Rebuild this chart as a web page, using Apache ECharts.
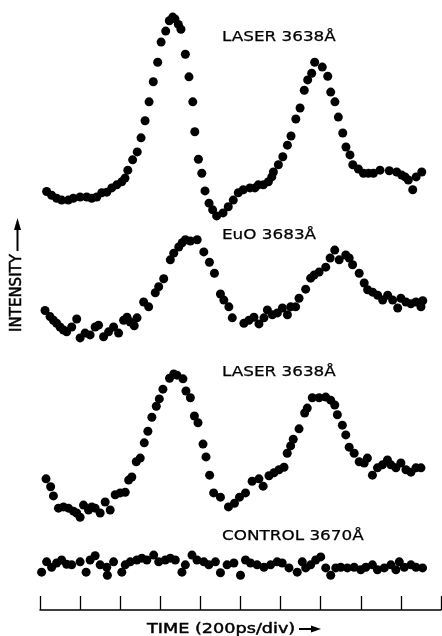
<!DOCTYPE html>
<html>
<head>
<meta charset="utf-8">
<script src="https://cdn.jsdelivr.net/npm/echarts@6/dist/echarts.min.js"></script>
<style>
  html, body { margin: 0; padding: 0; background: #fff; }
  #chart { width: 442px; height: 636px; }
</style>
</head>
<body>
<div id="chart"></div>
<script>
// time in ps (200 ps per division), intensity in arbitrary units above each trace's baseline
var laser1Time = [33, 58, 83, 108, 141, 166, 200, 233, 258, 283, 308, 333, 358, 383, 408, 424, 438, 462, 485, 504, 524, 544, 565, 587, 604, 627, 645, 662, 673, 690, 703, 725, 743, 762, 772, 790, 807, 823, 843, 861, 881, 913, 939, 964, 989, 1014, 1047, 1072, 1089, 1114, 1139, 1156, 1164, 1189, 1211, 1234, 1252, 1276, 1297, 1318, 1335, 1355, 1370, 1408, 1435, 1450, 1471, 1488, 1510, 1526, 1546, 1560, 1588, 1613, 1638, 1663, 1696, 1742, 1779, 1804, 1821, 1837, 1859, 1876, 1904];
var laser1Int = [2.6, 2.0, 1.5, 1.2, 1.2, 1.5, 1.7, 1.7, 1.5, 1.7, 2.4, 2.5, 3.2, 3.7, 4.2, 4.8, 6.1, 7.8, 9.1, 11.4, 14.2, 17.3, 20.6, 23.8, 27.1, 28.9, 30.6, 31.2, 30.9, 30.0, 29.2, 25.1, 21.4, 17.3, 12.4, 7.9, 5.6, 2.7, 0.7, -0.4, -1.4, -0.9, 0.1, 1.2, 2.4, 2.9, 3.2, 3.2, 3.7, 3.7, 4.2, 5.0, 5.8, 7.0, 8.3, 10.2, 11.7, 14.5, 16.3, 19.2, 20.9, 22.0, 23.8, 23.0, 21.5, 18.9, 17.3, 14.8, 12.2, 9.9, 8.6, 7.0, 6.3, 5.6, 5.6, 5.6, 6.1, 6.0, 5.8, 5.3, 5.0, 4.5, 2.9, 5.0, 5.8];

var euoTime = [25, 50, 67, 83, 100, 117, 133, 158, 183, 200, 225, 250, 275, 292, 317, 342, 367, 392, 417, 434, 450, 470, 484, 517, 542, 575, 592, 617, 650, 667, 692, 709, 725, 750, 784, 817, 845, 870, 900, 917, 942, 959, 1017, 1042, 1067, 1092, 1117, 1134, 1159, 1184, 1209, 1234, 1250, 1275, 1292, 1325, 1350, 1367, 1392, 1425, 1447, 1470, 1492, 1525, 1542, 1559, 1592, 1617, 1634, 1659, 1684, 1709, 1734, 1759, 1784, 1800, 1825, 1850, 1875, 1900, 1909];
var euoInt = [5.1, 4.1, 3.5, 3.0, 2.4, 1.9, 1.6, 2.4, 3.7, 0.6, 1.4, 1.1, 2.4, 2.7, 0.8, 1.6, 2.4, 1.4, 3.5, 4.0, 3.2, 2.6, 3.9, 6.5, 5.7, 8.0, 9.0, 10.3, 13.4, 14.5, 15.5, 16.2, 16.7, 16.5, 16.7, 14.7, 13.0, 11.2, 7.8, 6.8, 5.7, 3.9, 3.0, 3.5, 4.0, 2.9, 3.9, 5.2, 4.4, 4.7, 5.5, 4.4, 5.7, 5.7, 7.1, 8.6, 10.4, 10.9, 11.4, 12.2, 13.7, 15.0, 13.4, 14.2, 13.7, 12.6, 11.2, 9.6, 8.5, 8.1, 7.6, 6.8, 7.6, 6.8, 5.5, 7.1, 6.5, 6.2, 6.5, 5.7, 6.7];

var laser2Time = [30, 53, 67, 92, 117, 142, 167, 183, 200, 217, 242, 258, 275, 300, 325, 350, 375, 400, 425, 442, 458, 480, 500, 520, 538, 558, 580, 595, 613, 646, 667, 683, 713, 728, 750, 770, 788, 813, 828, 846, 866, 900, 940, 970, 995, 1025, 1058, 1092, 1113, 1142, 1167, 1192, 1217, 1233, 1250, 1263, 1292, 1320, 1333, 1358, 1392, 1425, 1450, 1470, 1483, 1508, 1525, 1542, 1567, 1592, 1617, 1633, 1658, 1683, 1708, 1733, 1750, 1775, 1800, 1825, 1850, 1875, 1900];
var laser2Int = [6.5, 5.2, 3.7, 1.7, 1.9, 1.7, 1.2, 0.9, 0.2, 2.2, 1.4, 1.9, 1.7, 0.9, 2.7, 1.4, 3.9, 4.2, 4.3, 6.3, 6.8, 9.3, 9.9, 12.4, 14.3, 16.6, 18.4, 19.6, 21.2, 23.0, 23.7, 23.5, 22.9, 20.9, 19.8, 16.8, 15.7, 12.2, 10.1, 7.1, 4.2, 3.5, 1.9, 2.5, 3.5, 4.2, 6.1, 6.5, 5.3, 7.0, 7.5, 8.0, 8.4, 10.7, 11.9, 13.0, 14.7, 17.3, 18.1, 19.8, 19.8, 19.9, 19.4, 18.6, 17.0, 15.3, 13.7, 11.7, 10.7, 9.3, 9.1, 9.9, 7.1, 8.3, 8.8, 9.6, 8.8, 8.3, 9.1, 8.0, 7.6, 8.3, 8.3];

var controlTime = [8, 33, 58, 83, 108, 133, 158, 200, 230, 250, 275, 300, 333, 336, 367, 408, 425, 450, 483, 508, 533, 567, 592, 625, 650, 675, 708, 725, 758, 783, 817, 842, 875, 900, 933, 967, 1000, 1025, 1050, 1083, 1117, 1150, 1183, 1208, 1242, 1283, 1308, 1325, 1350, 1375, 1400, 1425, 1450, 1475, 1500, 1533, 1567, 1600, 1625, 1658, 1683, 1717, 1750, 1775, 1792, 1817, 1850, 1875, 1908];
var controlInt = [1.2, 2.9, 2.0, 2.7, 3.2, 2.5, 2.4, 2.9, 1.2, 3.2, 3.9, 2.4, 2.0, 0.7, 2.9, 1.2, 2.4, 2.9, 3.2, 3.5, 3.2, 4.0, 2.9, 3.2, 3.5, 3.2, 1.2, 2.4, 4.0, 3.2, 2.9, 2.4, 2.9, 1.1, 2.4, 2.7, 0.7, 3.2, 2.7, 2.4, 2.0, 2.4, 2.9, 2.7, 1.9, 1.2, 2.9, 1.9, 2.4, 3.2, 3.7, 1.9, 0.7, 1.9, 2.0, 1.9, 2.0, 1.6, 2.0, 2.4, 1.6, 1.9, 2.4, 1.6, 2.9, 2.0, 2.4, 2.0, 1.9];

// vertical offsets of the stacked traces (same arbitrary units)
var traceNames = ['LASER 3638Å', 'EuO 3683Å', 'LASER 3638Å', 'CONTROL 3670Å'];
var traceOffsets = [66, 44, 15, 5];
var timeTicks = [0, 200, 400, 600, 800, 1000, 1200, 1400, 1600, 1800, 2000];

var traces = [
    [laser1Time, laser1Int],
    [euoTime, euoInt],
    [laser2Time, laser2Int],
    [controlTime, controlInt]
];

function toPoints(times, ints, offset) {
    var out = [];
    for (var i = 0; i < times.length; i++) {
        out.push([times[i], ints[i] + offset]);
    }
    return out;
}

var labelFont = '14px "DejaVu Sans", sans-serif';
var labelY = [37, 235, 372, 536];

var labels = traceNames.map(function (name, i) {
    return {
        type: 'text', x: 222, y: labelY[i], scaleX: 1.2,
        style: { text: name, font: labelFont, fill: '#000', stroke: '#000', lineWidth: 0.25, textAlign: 'left', textVerticalAlign: 'middle' }
    };
});

var option = {
    backgroundColor: '#fff',
    animation: false,
    grid: { left: 40, right: 1, top: 0, bottom: 26 },
    xAxis: {
        type: 'value',
        min: timeTicks[0],
        max: timeTicks[timeTicks.length - 1],
        interval: timeTicks[1] - timeTicks[0],
        axisLine: { show: true, lineStyle: { color: '#000', width: 1.5 } },
        axisTick: { show: true, inside: true, length: 14, lineStyle: { color: '#000', width: 1.3 } },
        axisLabel: { show: false },
        splitLine: { show: false }
    },
    yAxis: {
        type: 'value',
        min: 0,
        max: 100,
        show: false
    },
    graphic: labels.concat([
        // axis captions
        { type: 'text', x: 147, y: 629, scaleX: 1.26, style: { text: 'TIME (200ps/div)', font: '14px "DejaVu Sans", sans-serif', fill: '#000', stroke: '#000', lineWidth: 0.45, textAlign: 'left', textVerticalAlign: 'middle' } },
        { type: 'line', shape: { x1: 299, y1: 629, x2: 314, y2: 629 }, style: { stroke: '#000', lineWidth: 2 } },
        { type: 'polygon', shape: { points: [[321, 629], [311, 625.5], [311, 632.5]] }, style: { fill: '#000' } },
        { type: 'text', x: 17.5, y: 293, rotation: Math.PI / 2, style: { text: 'INTENSITY', font: '15px "DejaVu Sans", sans-serif', fill: '#000', stroke: '#000', lineWidth: 0.5, textAlign: 'center', textVerticalAlign: 'middle' } },
        { type: 'line', shape: { x1: 17.5, y1: 251, x2: 17.5, y2: 228 }, style: { stroke: '#000', lineWidth: 2 } },
        { type: 'polygon', shape: { points: [[17.5, 218], [14, 230], [21, 230]] }, style: { fill: '#000' } }
    ]),
    series: traces.map(function (t, i) {
        return {
            name: traceNames[i],
            type: 'scatter',
            symbol: 'circle',
            symbolSize: 9,
            itemStyle: { color: '#000', opacity: 1 },
            data: toPoints(t[0], t[1], traceOffsets[i])
        };
    })
};

var myChart = echarts.init(document.getElementById('chart'));
myChart.setOption(option);
</script>
</body>
</html>
